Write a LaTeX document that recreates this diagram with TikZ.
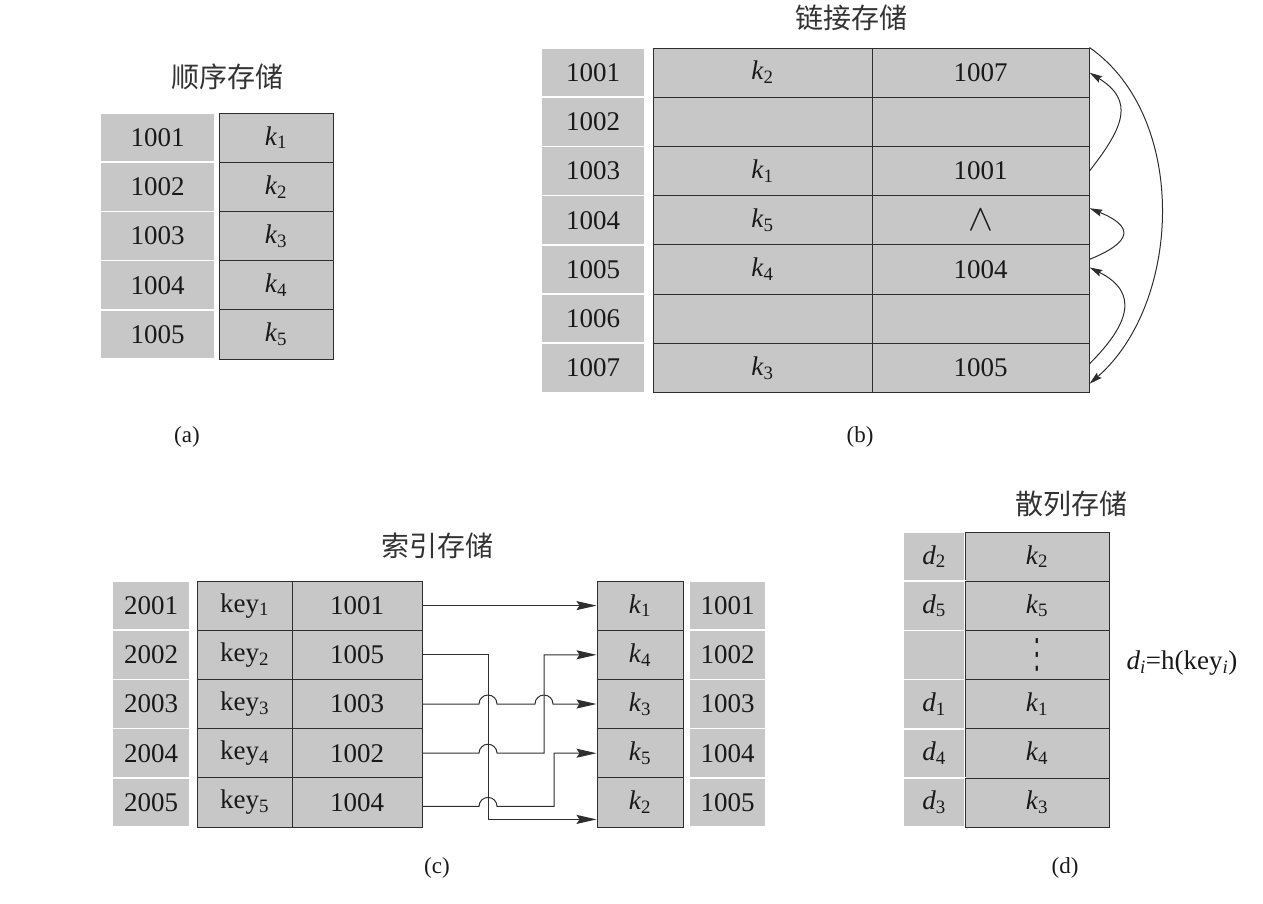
\documentclass[tikz,border=0pt]{standalone}
\usepackage{fontspec}
\usepackage{graphicx}
\setmainfont{Liberation Serif}
\newfontfamily\cjk{Noto Sans CJK SC}
\newfontfamily\symfont{DejaVu Sans}
\usetikzlibrary{arrows.meta,calc}
\definecolor{cellgray}{gray}{0.78}
\definecolor{linegray}{gray}{0.18}
\newcommand\ksub[1]{\textit{k}\textsubscript{#1}}
\newcommand\dsub[1]{\textit{d}\textsubscript{#1}}
\tikzset{
  addr/.style={fill=cellgray,draw=white,line width=1.5pt,minimum height=49.2pt,inner sep=0pt,text=black!90,font=\fontsize{27}{30}\selectfont},
  cell/.style={fill=cellgray,draw=linegray,line width=1pt,minimum height=49.2pt,inner sep=0pt,text=black!90,font=\fontsize{27}{30}\selectfont},
  title/.style={text=black!80,font=\cjk\fontsize{28}{30}\selectfont},
  caption/.style={text=black!90,font=\fontsize{23}{26}\selectfont},
  ptr/.style={draw=linegray,line width=1pt,-{Stealth[length=20pt,width=9pt,inset=3pt]}},
  link/.style={draw=linegray,line width=1pt,-{Stealth[length=13pt,width=7pt,inset=2pt]}},
}
\begin{document}
\begin{tikzpicture}[x=1pt,y=1pt]
  \useasboundingbox (0,0) rectangle (1263,-903);
  % (a) sequential
  \node[title] (ta) at (227,-77) {顺序存储};
  \foreach \i/\a in {1/1001,2/1002,3/1003,4/1004,5/1005}{
    \pgfmathsetmacro\y{-113-49.2*(\i-0.5)}
    \node[addr,minimum width=115pt] (sa\i) at (157.5,\y) {\a};
    \node[cell,minimum width=114pt] (sk\i) at (276,\y) {\ksub{\i}};
  }
  \node[caption] (ca) at (187,-437) {(a)};
  % (b) linked
  \node[title] (tb) at (851,-18) {链接存储};
  \foreach \i/\a/\k/\n in {1/1001/\ksub{2}/1007,2/1002/{}/{},3/1003/\ksub{1}/1001,4/1004/\ksub{5}/{\scalebox{1.5}{$\wedge$}},5/1005/\ksub{4}/1004,6/1006/{}/{},7/1007/\ksub{3}/1005}{
    \pgfmathsetmacro\y{-48-49.2*(\i-0.5)}
    \node[addr,minimum width=104pt] (la\i) at (593,\y) {\a};
    \node[cell,minimum width=219pt] (lk\i) at (762.5,\y) {\k};
    \node[cell,minimum width=217pt] (ln\i) at (980.5,\y) {\n};
  }
  \draw[link] (ln3.east) .. controls +(35,45) and +(45,-28) .. (ln1.east);
  \draw[link] ([yshift=10pt]ln5.east) .. controls +(44,18) and +(44,-18) .. ([yshift=12pt]ln4.east);
  \draw[link] ([yshift=4pt]ln7.east) .. controls +(40,40) and +(50,-25) .. ([yshift=2pt]ln5.east);
  \draw[link] (ln1.north east) .. controls +(100,-70) and +(92,80) .. ([yshift=-16pt]ln7.east);
  \node[caption] (cb) at (860,-437) {(b)};
  % (c) indexed
  \node[title] (tc) at (437,-546) {索引存储};
  \foreach \i/\p/\r in {1/1001/1,2/1005/4,3/1003/3,4/1002/5,5/1004/2}{
    \pgfmathsetmacro\y{-581-49.2*(\i-0.5)}
    \node[addr,minimum width=78pt] (ia\i) at (151,\y) {200\i};
    \node[cell,minimum width=95pt] (ik\i) at (244.5,\y) {key\textsubscript{\i}};
    \node[cell,minimum width=130pt] (ip\i) at (357,\y) {\p};
    \node[cell,minimum width=86pt] (ir\i) at (640,\y) {\ksub{\r}};
    \node[addr,minimum width=77pt] (ib\i) at (727.5,\y) {100\i};
  }
  \coordinate (v1) at (488,0);
  \coordinate (v2) at (544,0);
  \coordinate (v3) at (554,0);
  \coordinate (r5low) at ($(ir5.west)+(0,-17)$);
  \draw[ptr] (ip1.east) -- (ir1.west);
  \draw[ptr] (ip2.east) -| (v1 |- r5low) -- (r5low);
  \draw[ptr] (ip3.east) -- ($(ip3.east -| v1)+(-9,0)$) arc (180:0:9)
    -- ($(ip3.east -| v2)+(-9,0)$) arc (180:0:9) -- (ir3.west);
  \draw[ptr] (ip4.east) -- ($(ip4.east -| v1)+(-9,0)$) arc (180:0:9)
    -- (ip4.east -| v2) |- (ir2.west);
  \draw[ptr] ([yshift=-4pt]ip5.east) -- ($([yshift=-4pt]ip5.east -| v1)+(-9,0)$) arc (180:0:9)
    -- ([yshift=-4pt]ip5.east -| v3) |- (ir4.west);
  \node[caption] (cc) at (437,-868) {(c)};
  % (d) hashed
  \node[title] (td) at (1071,-504) {散列存储};
  \foreach \i/\d/\k in {1/\dsub{2}/\ksub{2},2/\dsub{5}/\ksub{5},3/{}/{\symfont\scalebox{0.8}[1.5]{⋮}},4/\dsub{1}/\ksub{1},5/\dsub{4}/\ksub{4},6/\dsub{3}/\ksub{3}}{
    \pgfmathsetmacro\y{-532-49.2*(\i-0.5)}
    \node[addr,minimum width=62pt] (ha\i) at (934,\y) {\d};
    \node[cell,minimum width=144pt] (hk\i) at (1037,\y) {\k};
  }
  \node[text=black!90,font=\fontsize{27}{30}\selectfont] (hf) at (1182,-663) {\textit{d}\textsubscript{\textit{i}}=h(key\textsubscript{\textit{i}})};
  \node[caption] (cd) at (1065,-868) {(d)};
\end{tikzpicture}
\end{document}
